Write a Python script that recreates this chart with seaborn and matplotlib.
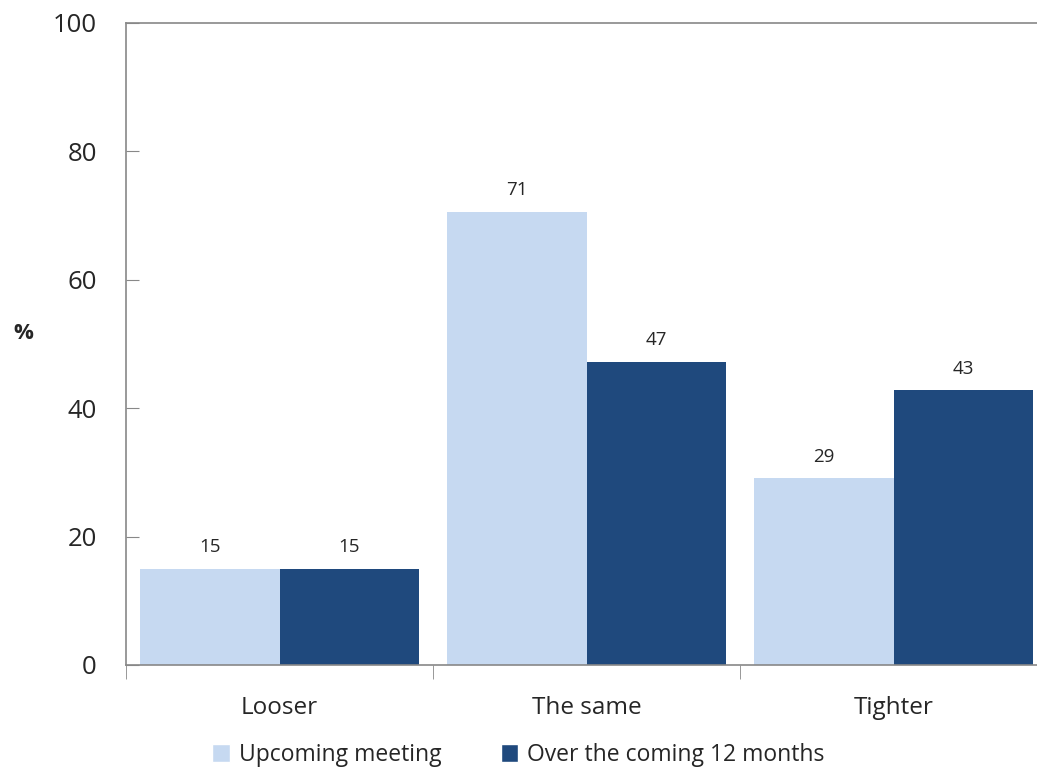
import pandas as pd
import seaborn as sns
import matplotlib.pyplot as plt
from matplotlib.patches import Patch

categories = ["Looser", "The same", "Tighter"]
series_names = ["Upcoming meeting", "Over the coming 12 months"]
upcoming = [15.0, 70.6, 29.1]
coming_12m = [15.0, 47.2, 42.8]
colors = ["#C6D9F1", "#1F497D"]

df = pd.DataFrame({
    "category": categories * 2,
    "series": [series_names[0]] * 3 + [series_names[1]] * 3,
    "value": upcoming + coming_12m,
})

sns.set_style("white")
plt.rcParams["font.family"] = ["Open Sans", "DejaVu Sans"]

fig = plt.figure(figsize=(10.37, 7.78), dpi=100)
ax = fig.add_axes([126 / 1037, 113 / 778, 921 / 1037, 642 / 778])

sns.barplot(data=df, x="category", y="value", hue="series", palette=colors,
            width=0.91, saturation=1, linewidth=0, ax=ax, legend=False)

for cont in ax.containers:
    ax.bar_label(cont, labels=[f"{v:.0f}" for v in cont.datavalues],
                 padding=9, fontsize=13.5)

ax.set_xlim(-0.5, 2.5)
ax.set_ylim(0, 100)
ax.set_yticks(range(0, 101, 20))
ax.tick_params(axis="y", direction="in", length=9, color="#888888",
               labelsize=18.5, pad=21, left=True)
ax.set_xticks([0, 1, 2])
ax.set_xticklabels(categories, fontsize=17.5)
ax.tick_params(axis="x", length=0, pad=22)
ax.set_xticks([-0.5, 0.5, 1.5, 2.5], minor=True)
ax.tick_params(axis="x", which="minor", direction="out", length=10,
               color="#888888", bottom=True)
ax.set_xlabel("")
ax.set_ylabel("%", rotation=0, fontsize=16, fontweight="bold")
ax.yaxis.set_label_coords(-0.112, 0.5)

for s in ["left", "bottom", "top"]:
    ax.spines[s].set_color("#888888")
    ax.spines[s].set_linewidth(1.2)
ax.spines["right"].set_visible(False)

handles = [Patch(facecolor=c, label=n) for c, n in zip(colors, series_names)]
fig.legend(handles=handles, loc="lower center", bbox_to_anchor=(0.5, -0.012),
           ncol=2, frameon=False, fontsize=16.5, handlelength=0.75,
           handleheight=0.8, handletextpad=0.4, columnspacing=2.6)

fig.savefig("out.png", dpi=100)
